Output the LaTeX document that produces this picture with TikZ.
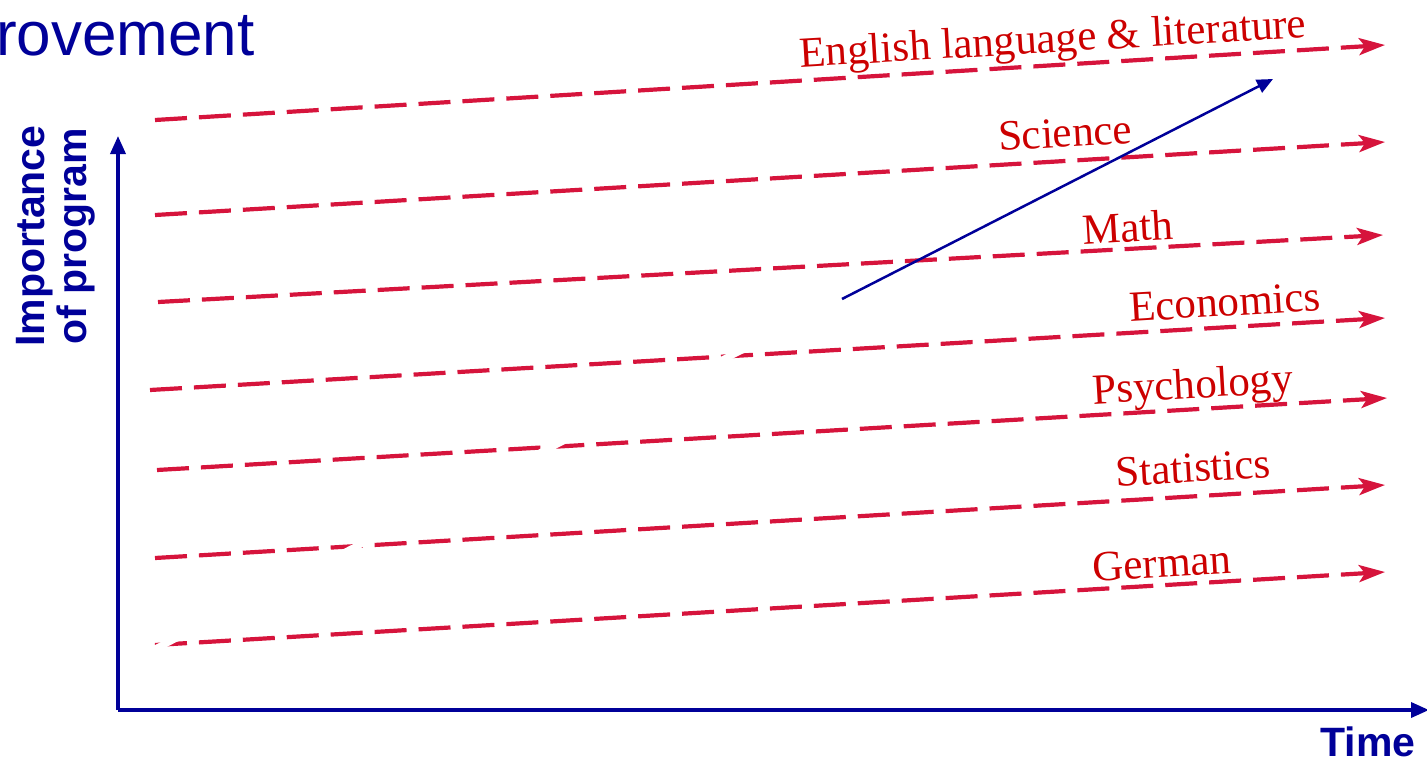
\documentclass[tikz,border=0pt]{standalone}
\usepackage{fontspec}
\setmainfont{Liberation Serif}
\setsansfont{Liberation Sans}
\usetikzlibrary{arrows.meta}
\definecolor{dblue}{RGB}{0,0,153}
\definecolor{redline}{RGB}{214,20,60}
\definecolor{redtext}{RGB}{204,0,0}
\tikzset{
  subj/.style={draw=redline, line width=4.2pt, dash pattern=on 32pt off 12pt, -{Stealth[length=26pt,width=17pt,inset=6pt]}},
  subjlabel/.style={text=redtext, font=\fontsize{43}{47}\selectfont\rmfamily, rotate=3.4, inner sep=0pt},
  axisline/.style={draw=dblue, line width=3.5pt, -{Triangle[length=18pt,width=15pt]}},
  axislabel/.style={text=dblue, font=\fontsize{41}{42}\selectfont\sffamily\bfseries, inner sep=0pt},
}
\begin{document}
\begin{tikzpicture}[x=1pt,y=-1pt]
\useasboundingbox (0,0) rectangle (1427,761);
\node[anchor=base west, inner sep=0pt, text=dblue, font=\fontsize{62}{66}\selectfont\sffamily] (title) at (-4,55) {rovement};
% red lines
\coordinate (e1) at (155,120); \coordinate (e2) at (1385,45);
\coordinate (s1) at (155,215); \coordinate (s2) at (1385,142);
\coordinate (m1) at (158,302); \coordinate (m2) at (1383,235);
\coordinate (c1) at (150,390); \coordinate (c2) at (1385,318);
\coordinate (p1) at (157,470); \coordinate (p2) at (1387,398);
\coordinate (t1) at (155,558); \coordinate (t2) at (1385,485);
\coordinate (g1) at (155,645); \coordinate (g2) at (1385,572);
\foreach \a in {e,s,m,c,p,t,g} { \draw[subj] (\a1) -- (\a2); }
% hidden part of trend arrow
\coordinate (h1) at (153,650); \coordinate (h2) at (842,299);
\draw[white, line width=7pt] (h1) -- (h2);
% labels
\node[subjlabel] (le) at (1053,42) {English language \& literature};
\node[subjlabel] (ls) at (1065,133) {Science};
\node[subjlabel] (lm) at (1128,227) {Math};
\node[subjlabel] (lc) at (1225,302) {Economics};
\node[subjlabel] (lp) at (1193,388) {Psychology};
\node[subjlabel] (lt) at (1193,468) {Statistics};
\node[subjlabel] (lg) at (1162,563) {German};
% trend arrow
\coordinate (b2) at (1273,79);
\draw[dblue, line width=2.5pt, -{Triangle[length=16pt,width=14pt]}] (h2) -- (b2);
% axes
\coordinate (o) at (118,710);
\coordinate (ytop) at (118,136);
\coordinate (xend) at (1429,710);
\draw[axisline] (o) -- (ytop);
\draw[axisline] (o) -- (xend);
\node[axislabel, rotate=90, align=center] (ylab) at (56,236) {Importance\\of program};
\node[axislabel] (xlab) at (1368,742) {Time};
\end{tikzpicture}
\end{document}
